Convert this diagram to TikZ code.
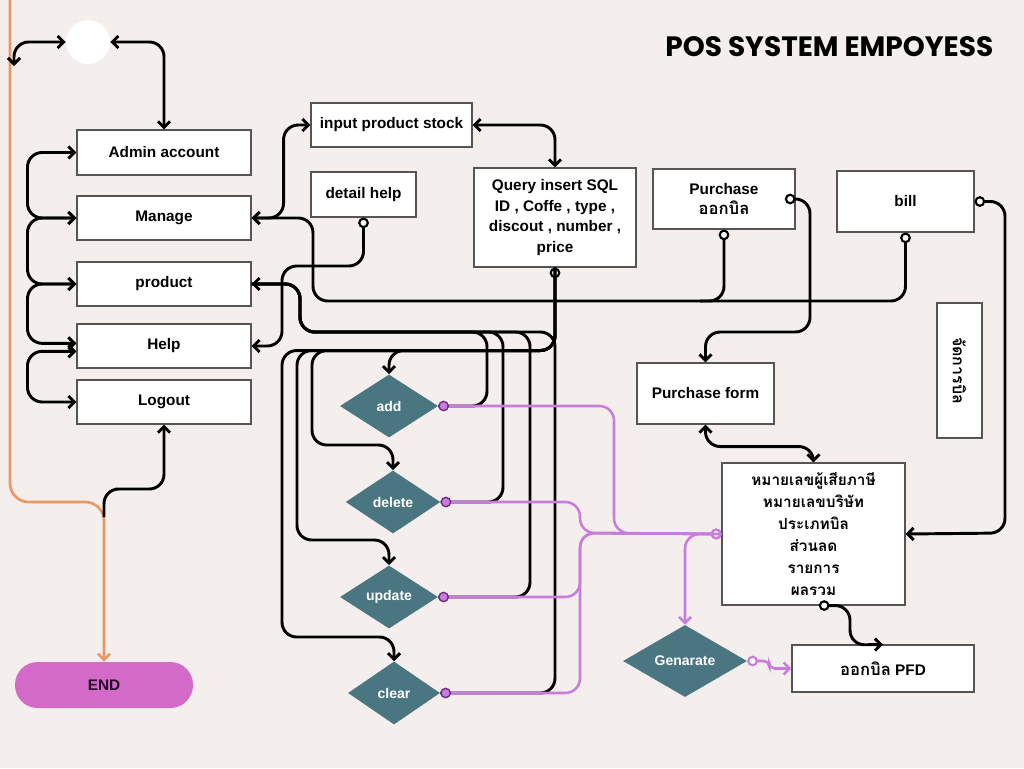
\documentclass[tikz,border=0pt]{standalone}
\usepackage{fontspec}
\setmainfont{Liberation Sans}
\newfontfamily\thaifont[Script=Thai]{Loma}
\newfontfamily\titlefont{Poppins}
\usepackage{xcolor}
\definecolor{paper}{RGB}{244,239,236}
\definecolor{slate}{RGB}{74,118,130}
\definecolor{violetline}{RGB}{200,125,220}
\definecolor{violetdark}{RGB}{110,40,130}
\definecolor{endfill}{RGB}{211,106,199}
\definecolor{enddark}{RGB}{40,10,40}
\definecolor{peach}{RGB}{236,152,102}
\definecolor{frame}{RGB}{85,85,85}
\usetikzlibrary{arrows.meta,shapes.geometric}

\begin{document}
\begin{tikzpicture}[x=0.75pt, y=-0.75pt,
    box/.style={draw=frame, line width=0.8pt, fill=white, align=center, inner sep=2pt,
        font=\bfseries\fontsize{11.5}{15.5}\selectfont},
    choice/.style={diamond, aspect=1.55, fill=slate, text=white, inner sep=0pt,
        font=\bfseries\fontsize{10.5}{12}\selectfont},
    flow/.style={line width=2.2pt, rounded corners=11pt},
    pflow/.style={line width=1.9pt, violetline, rounded corners=11pt},
    ring/.tip={Circle[fill=white, length=8pt, line width=1.6pt]},
    barb/.tip={Straight Barb[length=4.5pt, width=9pt]},
    pdot/.tip={Circle[color=violetdark, fill=violetline, length=8pt, line width=1pt]}]
    \useasboundingbox (0,0) rectangle (1024,768);
    \fill[paper] (0,0) rectangle (1024,768);

    % Title
    \node[anchor=east, font=\titlefont\bfseries\fontsize{21}{24}\selectfont] (Title) at (998,47) {POS SYSTEM EMPOYESS};

    % Start and menu
    \node[circle, fill=white, minimum size=33pt, inner sep=0pt] (Start) at (88,42) {};
    \node[box, minimum width=130.5pt, minimum height=33.75pt] (Admin) at (164,152.5) {Admin account};
    \node[box, minimum width=130.5pt, minimum height=33pt] (Manage) at (164,218) {Manage};
    \node[box, minimum width=130.5pt, minimum height=33pt] (Product) at (164,284) {product};
    \node[box, minimum width=130.5pt, minimum height=33pt] (Help) at (164,346) {Help};
    \node[box, minimum width=130.5pt, minimum height=33pt] (Logout) at (164,402) {Logout};
    \node[rounded corners=17pt, fill=endfill, text=enddark, minimum width=133.5pt, minimum height=34.5pt,
        font=\bfseries\fontsize{11.5}{14}\selectfont] (End) at (104,685) {END};

    % Stock and query
    \node[box, minimum width=120.75pt, minimum height=33pt] (Stock) at (391.5,125) {input product stock};
    \node[box, minimum width=78.75pt, minimum height=33.75pt] (Detail) at (363.5,194.5) {detail help};
    \node[box, minimum width=121.5pt, minimum height=74.25pt] (Query) at (555,217.5)
        {Query insert SQL\\ID , Coffe , type ,\\discout , number ,\\price};

    % Diamonds
    \node[choice, minimum width=73.5pt, minimum height=47.25pt] (Add) at (389,406) {add};
    \node[choice, minimum width=71pt, minimum height=47.25pt] (Delete) at (393,502) {delete};
    \node[choice, minimum width=73.5pt, minimum height=47.25pt] (Update) at (389,597) {update};
    \node[choice, minimum width=69pt, minimum height=47.25pt] (Clear) at (394,693) {clear};
    \node[choice, minimum width=93pt, minimum height=54pt] (Gen) at (685,661) {Genarate};

    % Bill side
    \node[box, minimum width=106.5pt, minimum height=45pt] (PurchaseBill) at (724,199)
        {Purchase\\{\thaifont\fontsize{12.5}{15.5}\selectfont ออกบิล}};
    \node[box, minimum width=102.75pt, minimum height=45.75pt] (Bill) at (905.5,201.5) {bill};
    \node[box, rotate=-90, minimum width=101.25pt, minimum height=33.75pt,
        font=\thaifont\bfseries\fontsize{12}{14}\selectfont] (BillMgr) at (959.5,370.5) {จัดการบิล};
    \node[box, minimum width=102.75pt, minimum height=45.75pt] (PurchaseForm) at (705.5,393.5) {Purchase form};
    \node[box, minimum width=137.25pt, minimum height=106.5pt,
        font=\thaifont\bfseries\fontsize{11.5}{16.5}\selectfont] (BillInfo) at (813.5,534)
        {หมายเลขผู้เสียภาษี\\หมายเลขบริษัท\\ประเภทบิล\\ส่วนลด\\รายการ\\ผลรวม};
    \node[box, minimum width=136.5pt, minimum height=35.25pt] (PDF) at (883,668.5)
        {{\thaifont\fontsize{12.5}{15.5}\selectfont ออกบิล} PFD};

    % Orange exit line
    \coordinate (EdgeTop) at (10,0);
    \coordinate (EdgeDrop) at (14,66);
    \coordinate (Split) at (104,517);
    \draw[line width=2pt, peach, rounded corners=14pt, -barb] (EdgeTop) -- (10,502) -| (End.north);
    \draw[flow, -barb] (Split) |- (130,489) -| (Logout.south);

    % Start links
    \draw[flow, barb-barb] (Start.west) -| (EdgeDrop);
    \draw[flow, barb-barb] (Start.east) -| (Admin.north);

    % Menu loops
    \draw[flow, barb-barb] (Admin.west) -- ++(-49,0) |- (Manage.west);
    \draw[flow, barb-barb] (Manage.west) -- ++(-49,0) |- (Product.west);
    \draw[flow, barb-barb] (Product.west) -- ++(-49,0) |- ([yshift=2pt]Help.west);
    \draw[flow, barb-barb] ([yshift=-4pt]Help.west) -- ++(-49,0) |- (Logout.west);

    % Manage, stock, query
    \draw[flow, barb-barb] (Manage.east) -- ++(32,0) |- (Stock.west);
    \draw[flow, barb-barb] (Stock.east) -| (Query.north);
    \draw[flow, ring-barb] (Detail.south) |- (282,266) |- (Help.east);
    \draw[flow, ring-barb] (PurchaseBill.south) |- (313,301) |- (Manage.east);
    \draw[flow, ring-] (Bill.south) |- (700,301);

    % Diamonds back to product
    \draw[flow, -barb] (Add.east) -| (487,332) -- (300,332) |- (Product.east);
    \draw[flow] (Delete.east) -| (503,332) -- (300,332) |- (Product.east);
    \draw[flow] (Update.east) -| (530,332) -- (300,332) |- (Product.east);
    \draw[flow] (Clear.east) -| (555,332) -- (300,332) |- (Product.east);

    % Query to diamonds
    \draw[flow, ring-barb] (Query.south) -- ++(0,83) -| (Add.north);
    \draw[flow, -barb] (Query.south) -- ++(0,83) -| (312,445) -| (Delete.north);
    \draw[flow, -barb] (Query.south) -- ++(0,83) -| (297,540) -| (Update.north);
    \draw[flow, -barb] (Query.south) -- ++(0,83) -| (282,637) -| (Clear.north);

    % Diamonds to bill info
    \draw[pflow, pdot-ring] (Add.east) -| (614,533) -- (BillInfo.west);
    \draw[pflow, pdot-ring] (Delete.east) -| (580,533) -- (BillInfo.west);
    \draw[pflow, pdot-ring] (Update.east) -| (580,533) -- (BillInfo.west);
    \draw[pflow, pdot-ring] (Clear.east) -| (580,533) -- (BillInfo.west);
    \draw[pflow, -barb] (BillInfo.west) -| (Gen.north);
    \draw[pflow, rounded corners=4pt, ring-barb] (Gen.east) -- ++(22,0) |- (PDF.west);

    % Bill side links
    \draw[flow, ring-barb] ([xshift=4pt]BillInfo.south) -| (850,645) -- (PDF.north);
    \draw[flow, barb-barb] (PurchaseForm.south) -- ++(0,22) -| (BillInfo.north);
    \draw[flow, ring-barb] (PurchaseBill.east) -| (810,332) -| (PurchaseForm.north);
    \draw[flow, ring-barb] (Bill.east) -| (1005,533) -- (BillInfo.east);
\end{tikzpicture}
\end{document}
